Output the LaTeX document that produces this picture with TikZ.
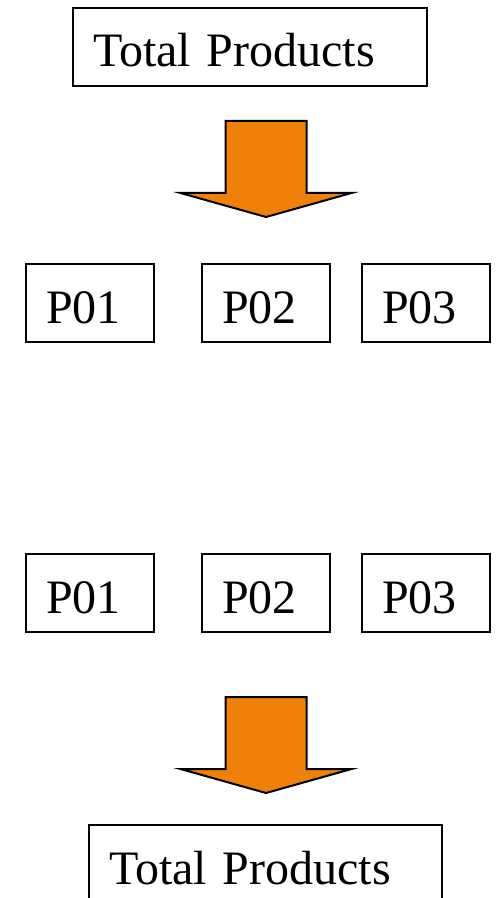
\documentclass[tikz,border=0pt]{standalone}
\usepackage{fontspec}
\setmainfont{Liberation Serif}
\definecolor{flow}{RGB}{239,129,9}
\begin{document}
\begin{tikzpicture}[x=0.5pt, y=-0.5pt]
      \tikzstyle{box}=[draw, line width=1.2pt, rectangle, inner xsep=10pt, align=left,
                       text height=20pt, text depth=0pt, minimum height=39pt,
                       font=\fontsize{24}{28}\selectfont]
      \tikzstyle{total}=[box, text width=157pt]
      \tikzstyle{prod}=[box, text width=44pt]
      \tikzstyle{bigarrow}=[draw, line width=1pt, fill=flow, line join=miter]
      \useasboundingbox (0,0) rectangle (495,898);

      \node[total] (top) at (250, 47) {Total Products};
      \node[prod] (pa1) at (90, 303) {P01};
      \node[prod] (pb1) at (266, 303) {P02};
      \node[prod] (pc1) at (426, 303) {P03};
      \node[prod] (pa2) at (90, 593) {P01};
      \node[prod] (pb2) at (266, 593) {P02};
      \node[prod] (pc2) at (426, 593) {P03};
      \node[total, text width=156.5pt] (bottom) at (265.5, 864) {Total Products};

      % block arrows, tip at (266, \tip)
      \foreach \tip in {217, 793} {%
        \draw[bigarrow] (225.5, {\tip-96}) -- (306.5, {\tip-96}) -- (306.5, {\tip-24})
          -- (351.5, {\tip-24}) -- (266, \tip) -- (180.5, {\tip-24})
          -- (225.5, {\tip-24}) -- cycle;
      }
    \end{tikzpicture}
\end{document}
